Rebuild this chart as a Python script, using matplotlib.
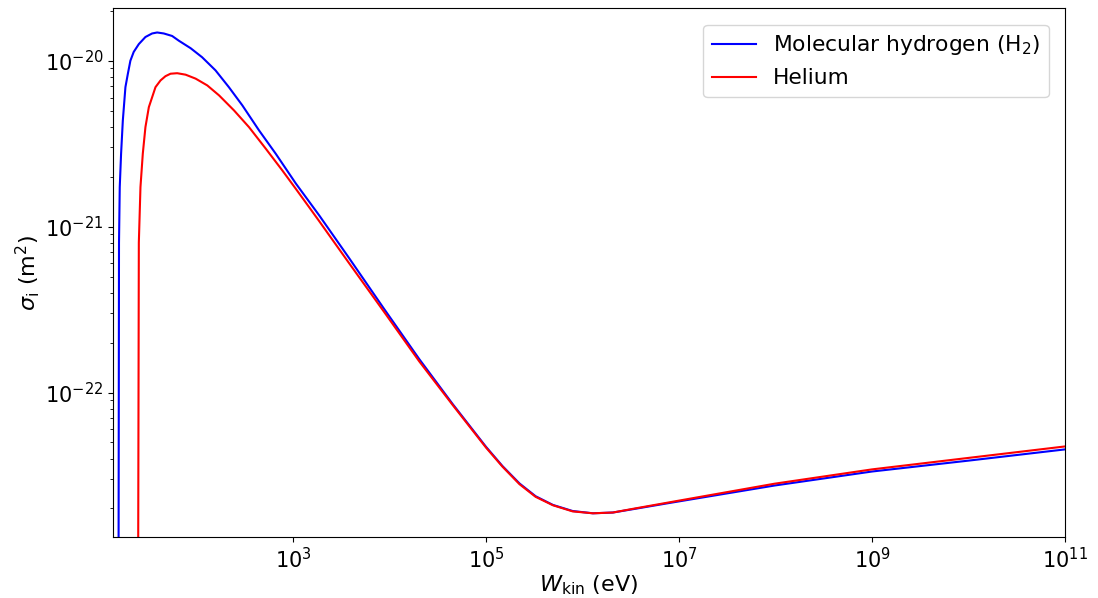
import matplotlib
matplotlib.use('Agg')
import matplotlib.pyplot as plt

# Values (energy in eV, cross-section in m^2)
h2_energy = [15.45, 15.7, 15.98, 16.5, 17.2, 18.3, 19.4, 20.6, 22.3, 25.2,
             29.5, 34.6, 39.0, 45.7, 55.8, 65.5, 86.7, 114, 157, 216, 298,
             444, 661, 1067, 1862, 3820, 8810, 2.03e4, 4.51e4, 1.0e5, 1.48e5,
             2.22e5, 3.26e5, 4.93e5, 7.89e5, 1.28e6, 2.06e6, 3.33e6, 8.02e6,
             9.77e7, 1.0e9, 1.02e10, 1.0e11]
h2_sigma = [1e-24, 8e-22, 1.73e-21, 2.75e-21, 4.36e-21, 6.93e-21, 8.35e-21,
            1.00e-20, 1.13e-20, 1.26e-20, 1.39e-20, 1.46e-20, 1.48e-20,
            1.46e-20, 1.41e-20, 1.32e-20, 1.19e-20, 1.05e-20, 8.75e-21,
            6.93e-21, 5.38e-21, 3.80e-21, 2.75e-21, 1.82e-21, 1.17e-21,
            6.44e-22, 3.18e-22, 1.59e-22, 8.51e-23, 4.70e-23, 3.60e-23,
            2.83e-23, 2.37e-23, 2.10e-23, 1.93e-23, 1.87e-23, 1.89e-23,
            1.98e-23, 2.16e-23, 2.75e-23, 3.34e-23, 3.89e-23, 4.54e-23]

he_energy = [24.6, 25.2, 26.2, 27.7, 29.5, 32.0, 37.5, 42.3, 47.6, 53.7, 62.9,
             76.9, 97.7, 129, 171, 244, 349, 521, 774, 1067, 1466, 1862, 3820,
             8810, 2.03e4, 4.51e4, 1.0e5, 1.48e5, 2.22e5, 3.26e5, 4.93e5,
             7.89e5, 1.28e6, 2.06e6, 3.33e6, 8.02e6, 9.77e7, 1.0e9, 1.02e10,
             1.0e11]
he_sigma = [1e-24, 8e-22, 1.73e-21, 2.75e-21, 3.98e-21, 5.25e-21, 6.93e-21,
            7.61e-21, 8.07e-21, 8.35e-21, 8.41e-21, 8.24e-21, 7.80e-21,
            7.10e-21, 6.18e-21, 5.02e-21, 3.98e-21, 2.95e-21, 2.18e-21,
            1.69e-21, 1.31e-21, 1.08e-21, 6.00e-22, 3.05e-22, 1.54e-22,
            8.40e-23, 4.65e-23, 3.57e-23, 2.80e-23, 2.35e-23, 2.09e-23,
            1.92e-23, 1.87e-23, 1.89e-23, 1.99e-23, 2.18e-23, 2.82e-23,
            3.44e-23, 4.04e-23, 4.73e-23]

fig = plt.figure(figsize=(10.98, 5.98), dpi=100)
ax = fig.add_axes([0.1029, 0.1015, 0.8671, 0.8846])

ax.plot(h2_energy, h2_sigma, color='blue', lw=1.5,
        label='Molecular hydrogen (H$_2$)')
ax.plot(he_energy, he_sigma, color='red', lw=1.5, label='Helium')

ax.set_xscale('log')
ax.set_yscale('log')
ax.set_xlim(13.6, 1e11)
ax.set_ylim(1.34e-23, 2.07e-20)

ax.set_xlabel('$W_\\mathrm{kin}$ (eV)', fontsize=16, labelpad=1)
ax.set_ylabel('$\\sigma_\\mathrm{i}$ (m$^2$)', fontsize=16, labelpad=2)
ax.tick_params(labelsize=15)
ax.legend(loc='upper right', fontsize=15.7, borderaxespad=0.75)

fig.savefig('out.png', dpi=100)
